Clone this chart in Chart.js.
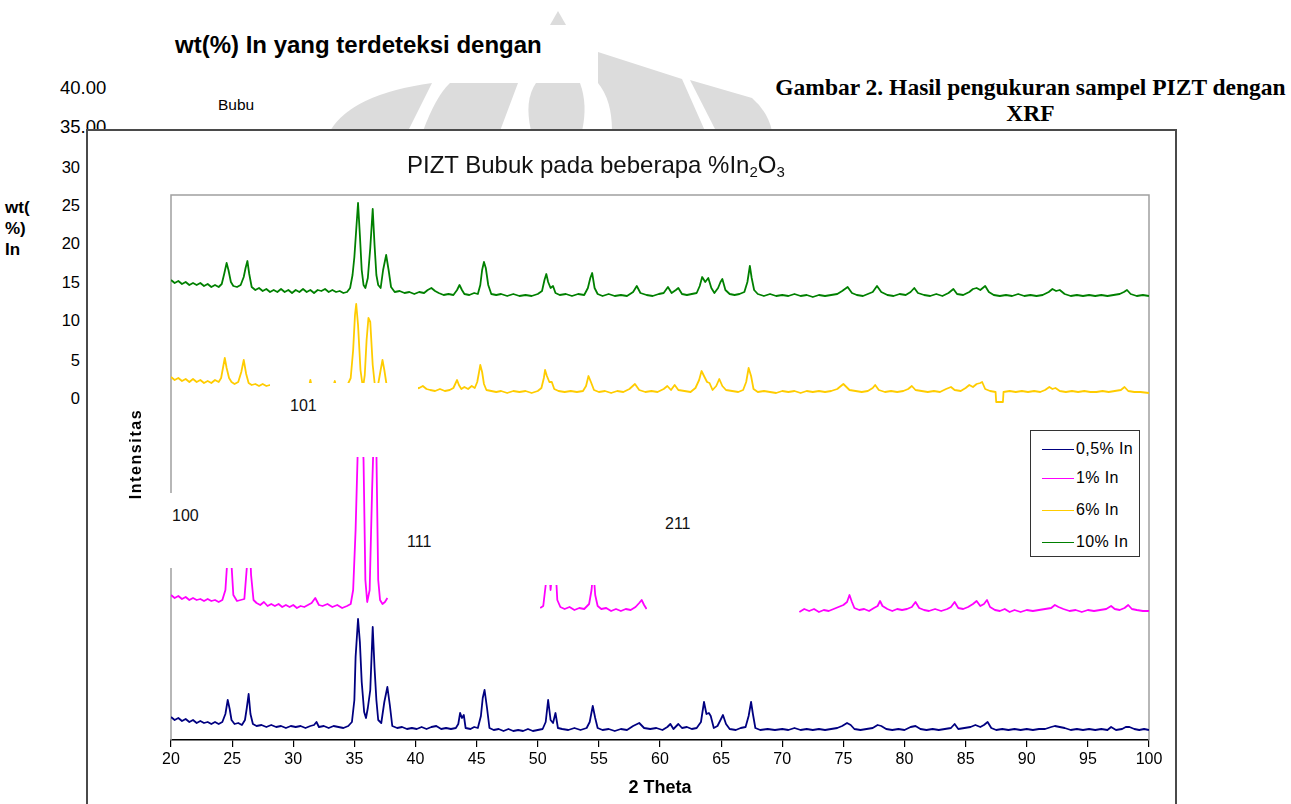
<!DOCTYPE html>
<html>
<head>
<meta charset="utf-8">
<script src="https://cdn.jsdelivr.net/npm/chart.js@4.4.0/dist/chart.umd.min.js"></script>
<style>
  html, body { margin: 0; padding: 0; background: #fff; width: 1291px; height: 804px; overflow: hidden;
    font-family: "Liberation Sans", Arial, sans-serif; color: #000; }
  .t { position: absolute; white-space: nowrap; z-index: 0; }
  .num { font-size: 16.5px; line-height: 20px; text-align: right; width: 40px; left: 40px; }
  .side { font-size: 17px; font-weight: bold; line-height: 20px; left: 5px; }
  #frame { position: absolute; left: 86px; top: 129px; width: 1091px; height: 720px;
    border: 2px solid #4a4a4a; background: #fff; box-sizing: border-box; z-index: 1; }
  #xrd { position: absolute; left: 0; top: 0; z-index: 2; }
  .box { position: absolute; background: #fff; z-index: 3; }
  .box span { position: absolute; font-size: 16px; line-height: 20px; color: #111; }
  #title { position: absolute; left: 407px; top: 151px; font-size: 24px; line-height: 28px; z-index: 3; white-space: nowrap; color: #111; }
  #title sub { font-size: 15px; vertical-align: -4px; line-height: 0; }
  #ylab { position: absolute; left: 76px; top: 444px; width: 120px; height: 20px; line-height: 20px;
    text-align: center; font-size: 16px; font-weight: bold; letter-spacing: 1.6px; transform: rotate(-90deg); z-index: 3; }
  #legend { position: absolute; left: 1030px; top: 430px; width: 110px; height: 127px; border: 1.5px solid #333;
    box-sizing: border-box; background: #fff; z-index: 3; }
  #legend .row { position: absolute; left: 11px; height: 20px; line-height: 20px; font-size: 16px; letter-spacing: 0.4px; white-space: nowrap; }
  #legend .row i { display: inline-block; width: 32px; height: 0; border-top: 1.5px solid; vertical-align: middle; margin-right: 2px; }
</style>
</head>
<body>
<svg width="1291" height="135" style="position:absolute;left:0;top:0;z-index:0">
  <g fill="#dcdcdc">
    <polygon points="558,11 566,25 550,25"/>
    <path d="M330,131 Q352,94 432,83 L408,131 Z"/>
    <path d="M423,131 Q436,96 450,83 L518,83 L500,131 Z"/>
    <path d="M531,131 Q524,100 536,83 L580,83 Q588,105 582,131 Z"/>
    <path d="M598,52 L682,79 L705,131 L612,131 Q612,100 598,83 Z"/>
    <path d="M690,80 L752,98 Q768,112 772,131 L716,131 Z"/>
  </g>
</svg>

<div class="t" style="left:175px;top:31px;font-size:24px;font-weight:bold;line-height:28px;">wt(%) In yang terdeteksi dengan</div>
<div class="t" style="left:60px;top:78px;font-size:18.5px;line-height:20px;">40.00</div>
<div class="t" style="left:218px;top:96px;font-size:15.5px;line-height:18px;">Bubu</div>
<div class="t" style="left:60px;top:117px;font-size:18.5px;line-height:20px;">35.00</div>
<div class="t num" style="top:157px;">30</div>
<div class="t num" style="top:195px;">25</div>
<div class="t num" style="top:233px;">20</div>
<div class="t num" style="top:272px;">15</div>
<div class="t num" style="top:310px;">10</div>
<div class="t num" style="top:350px;">5</div>
<div class="t num" style="top:388px;">0</div>
<div class="t side" style="top:198px;">wt(</div>
<div class="t side" style="top:219px;">%)</div>
<div class="t side" style="top:240px;">In</div>
<div class="t" style="left:770px;top:74px;width:521px;text-align:center;font-family:'Liberation Serif',serif;font-weight:bold;font-size:23.5px;line-height:26px;">Gambar 2. Hasil pengukuran sampel PIZT dengan<br>XRF</div>

<div id="frame"></div>
<canvas id="xrd" width="1291" height="804"></canvas>

<div id="title">PIZT Bubuk pada beberapa %In<sub>2</sub>O<sub>3</sub></div>
<div id="ylab">Intensitas</div>

<div class="box" style="left:270px;top:383px;width:148px;height:74px;"><span style="left:20px;top:13px;">101</span></div>
<div class="box" style="left:160px;top:493px;width:180px;height:75px;"><span style="left:12px;top:13px;">100</span></div>
<div class="box" style="left:388px;top:470px;width:152px;height:146px;"><span style="left:19px;top:62px;">111</span></div>
<div class="box" style="left:540px;top:470px;width:107px;height:115px;"></div>
<div class="box" style="left:647px;top:470px;width:152px;height:148px;"><span style="left:18px;top:44px;">211</span></div>

<div id="legend"></div>

<script>
// series names and colours (legend order)
const seriesNames = ["0,5% In", "1% In", "6% In", "10% In"];
const seriesColors = ["#000080", "#FF00FF", "#FFCC00", "#008000"];

// x axis (2 Theta) range and tick step
const thetaMin = 20, thetaMax = 100, thetaStep = 5;

// intensity, arbitrary units (curves are stacked with offsets as in the figure)
const in05 = [
  [20,23],[20.3,20],[20.6,22],[20.9,19],[21.2,21],[21.5,18],[21.8,20],[22.1,17],[22.4,19],[22.7,17],[23,18],[23.3,16],[23.6,18],[23.9,16],[24.2,18],[24.45,26],[24.64,40],[24.8,31],[24.95,20],[25.2,16],[25.5,17],[25.8,15],[26.05,20],[26.2,32],[26.35,46],[26.5,26],[26.7,16],
  [27,14],[27.4,15],[27.8,13],[28.2,15],[28.6,13],[29,14],[29.4,12],[29.8,14],[30.2,13],[30.6,14],[31,12],[31.4,14],[31.7,15],[31.9,18],[32.1,13],[32.5,14],[32.9,12],[33.3,14],[33.7,13],[34.1,12],[34.5,14],[34.8,18],
  [35,40],[35.1,83],[35.3,121],[35.45,98],[35.6,58],[35.8,28],[35.95,22],[36.1,32],[36.3,50],[36.5,113],[36.65,72],[36.8,40],[36.95,20],[37.2,17],[37.45,38],[37.7,53],[37.9,35],[38.1,14],
  [38.5,12],[38.9,13],[39.3,11],[39.7,12],[40.1,11],[40.5,13],[40.9,11],[41.3,13],[41.7,14],[42.1,11],[42.5,12],[42.9,11],[43.3,12],[43.5,16],[43.65,27],[43.8,22],[43.95,25],[44.1,12],[44.5,11],[44.8,13],[45.1,12],[45.35,24],[45.5,42],[45.65,50],[45.85,32],[46.05,12],
  [46.4,10],[46.8,11],[47.2,9],[47.6,11],[48,9],[48.4,10],[48.8,9],[49.2,11],[49.6,9],[50,10],[50.4,11],[50.65,18],[50.85,40],[51.05,20],[51.25,17],[51.45,27],[51.65,12],[52,11],[52.5,10],[53,12],[53.5,10],[54,12],[54.25,18],[54.5,34],[54.7,22],[54.9,12],
  [55.3,10],[55.8,11],[56.3,9],[56.8,11],[57.3,10],[57.8,14],[58.3,17],[58.7,12],[59.2,11],[59.7,12],[60.2,10],[60.6,13],[60.85,16],[61.1,11],[61.5,16],[61.8,12],[62.2,13],[62.6,11],[63,12],[63.35,18],[63.6,38],[63.8,26],[64,27],[64.15,24],[64.4,12],[64.7,14],[64.95,20],[65.15,25],[65.4,16],[65.7,11],
  [66.2,10],[66.6,12],[67,13],[67.25,24],[67.45,38],[67.6,26],[67.8,12],[68.2,10],[68.8,11],[69.4,10],[70,11],[70.5,10],[71,12],[71.5,10],[72,11],[72.5,10],[73,11],[73.5,10],[74,11],[74.5,12],[74.9,14],[75.3,17],[75.6,15],[75.9,11],
  [76.4,10],[76.9,11],[77.4,12],[77.8,15],[78.1,14],[78.5,11],[79,10],[79.5,11],[80,10],[80.5,13],[80.9,14],[81.3,11],[81.8,10],[82.3,11],[82.8,10],[83.3,11],[83.8,12],[84.1,16],[84.4,11],[84.9,12],[85.4,13],[85.8,15],[86.2,13],[86.5,15],[86.8,18],[87.1,12],
  [87.5,10],[88,11],[88.5,10],[89,11],[89.5,10],[90,11],[90.5,10],[91,11],[91.5,11],[92,13],[92.3,14],[92.7,13],[93.1,12],[93.6,10],[94.1,11],[94.6,10],[95.1,11],[95.6,10],[96.1,11],[96.6,10],[96.9,13],[97.3,10],[97.8,11],[98.1,13],[98.4,13],[98.8,11],[99.2,10],[99.6,11],[100,10]
];

const in1 = [
  [20,145],[20.3,142],[20.6,144],[20.9,141],[21.2,143],[21.5,140],[21.8,142],[22.1,140],[22.4,141],[22.7,139],[23,141],[23.3,139],[23.6,140],[23.9,138],[24.2,140],[24.45,150],[24.6,178],[24.8,205],[24.95,175],[25.1,145],[25.4,139],[25.7,140],[26,141],[26.2,172],[26.4,210],[26.55,165],[26.75,140],
  [27,137],[27.3,135],[27.6,138],[27.9,134],[28.2,136],[28.5,134],[28.8,136],[29.1,133],[29.4,135],[29.7,133],[30,135],[30.3,132],[30.6,134],[30.9,133],[31.2,135],[31.5,137],[31.8,142],[32.1,135],[32.4,134],[32.8,136],[33.2,133],[33.6,135],[34,132],[34.4,134],[34.7,136],
  [34.9,150],[35.1,210],[35.3,300],[35.55,330],[35.75,280],[35.9,160],[36.05,138],[36.25,150],[36.45,250],[36.65,330],[36.8,290],[36.95,160],[37.1,140],[37.3,136],[37.5,138],[37.7,142],
  [37.75,null],
  [50.2,132],[50.45,134],[50.65,155],[50.85,190],[51.05,150],[51.2,170],[51.4,185],[51.6,140],[51.85,133],[52.2,131],[52.6,133],[53,130],[53.4,132],[53.8,131],[54.2,136],[54.4,150],[54.55,170],[54.7,145],[54.9,134],[55.2,131],[55.6,132],[56,129],[56.4,131],[56.8,129],[57.2,131],[57.6,130],[58,133],[58.3,137],[58.5,140],[58.7,135],[58.9,131],
  [58.95,null],
  [71.4,128],[71.8,131],[72.2,129],[72.6,131],[73,128],[73.4,130],[73.8,129],[74.2,131],[74.6,133],[75,135],[75.3,138],[75.5,145],[75.7,138],[75.9,132],[76.3,130],[76.7,131],[77.1,129],[77.5,132],[77.8,134],[78,139],[78.2,134],[78.6,131],[79,129],[79.4,131],[79.8,130],
  [80.2,131],[80.6,133],[80.9,138],[81.2,132],[81.6,130],[82,129],[82.5,131],[83,129],[83.5,131],[83.8,133],[84.1,138],[84.4,132],[84.8,131],[85.2,133],[85.6,136],[85.9,139],[86.2,134],[86.5,136],[86.75,140],[87,133],[87.4,130],[87.8,129],[88.2,131],[88.6,128],[89,130],
  [89.5,128],[90,130],[90.5,129],[91,130],[91.5,131],[92,132],[92.3,135],[92.6,133],[93,131],[93.5,129],[94,130],[94.5,128],[95,130],[95.5,129],[96,130],[96.5,131],[96.9,134],[97.2,131],[97.6,130],[98,132],[98.3,135],[98.6,131],[99,130],[99.5,129],[100,129]
];

const in6 = [
  [20,363],[20.3,360],[20.6,362],[20.9,359],[21.2,361],[21.5,358],[21.8,361],[22.1,358],[22.4,360],[22.7,357],[23,359],[23.3,357],[23.6,360],[23.9,358],[24.1,362],[24.25,372],[24.4,382],[24.55,372],[24.75,362],[24.95,358],[25.2,356],[25.5,358],[25.75,368],[25.95,380],[26.15,366],[26.35,357],
  [26.6,355],[26.9,356],[27.2,354],[27.5,356],[27.8,354],[28.1,355],[28.5,353],[29,354],[29.5,352],[30,354],[30.5,352],[31,353],[31.3,354],[31.4,360],[31.5,354],[32,352],[32.5,354],[33,352],[33.3,355],[33.4,359],[33.5,353],[34,352],[34.4,354],
  [34.7,362],[34.9,390],[35.05,425],[35.15,436],[35.3,415],[35.5,370],[35.7,352],[35.85,365],[36,400],[36.15,422],[36.3,418],[36.5,375],[36.7,352],[36.95,356],[37.15,370],[37.3,380],[37.45,370],[37.65,354],[37.9,351],
  [38.3,353],[38.8,351],[39.3,353],[39.8,351],[40.3,352],[40.6,354],[40.9,351],[41.2,350],[41.6,349],[42,351],[42.4,349],[42.8,350],[43.1,352],[43.25,356],[43.4,360],[43.55,355],[43.75,351],[44,353],[44.3,351],[44.6,354],[44.85,352],[45.05,358],[45.2,368],[45.3,375],[45.45,368],[45.6,356],[45.8,350],
  [46.2,349],[46.6,348],[47,349],[47.5,347],[48,349],[48.5,348],[49,349],[49.5,347],[50,349],[50.3,352],[50.5,362],[50.6,370],[50.75,364],[50.95,358],[51.15,358],[51.35,351],[51.7,349],[52.2,348],[52.7,349],[53.2,348],[53.7,349],[53.95,354],[54.15,364],[54.35,358],[54.6,350],
  [55,348],[55.5,349],[56,347],[56.5,349],[57,348],[57.5,351],[57.95,356],[58.3,350],[58.8,348],[59.3,349],[59.8,348],[60.3,351],[60.6,354],[60.9,350],[61.2,355],[61.5,350],[62,349],[62.5,348],[62.9,352],[63.2,360],[63.4,369],[63.6,364],[63.85,358],[64.05,357],[64.3,350],[64.6,354],[64.85,361],[65.1,354],[65.4,350],
  [65.9,349],[66.4,348],[66.8,350],[67.05,358],[67.25,372],[67.45,364],[67.65,351],[68,348],[68.5,349],[69,348],[69.5,347],[70,349],[70.5,348],[71,349],[71.5,347],[72,349],[72.5,348],[73,349],[73.5,348],[74,349],[74.5,351],[74.8,354],[75,356],[75.25,353],[75.5,350],
  [76,349],[76.5,348],[77,349],[77.4,352],[77.6,355],[77.9,350],[78.4,348],[78.9,349],[79.4,348],[79.9,349],[80.3,351],[80.6,354],[80.9,350],[81.4,349],[81.9,348],[82.4,349],[82.9,348],[83.4,351],[83.8,353],[84.1,350],[84.6,349],[85,352],[85.3,355],[85.6,353],[85.9,356],[86.2,357],[86.35,358],[86.6,351],[87,349],
  [87.45,348],[87.5,338],[88.05,338],[88.1,348],[88.6,349],[89.1,348],[89.6,349],[90.1,348],[90.6,349],[91.1,348],[91.5,350],[91.85,353],[92.1,351],[92.35,352],[92.7,349],[93.2,348],[93.7,349],[94.2,348],[94.7,349],[95.2,348],[95.7,348],[96.2,349],[96.7,348],[97.2,349],[97.7,350],[98,353],[98.3,349],[98.8,348],[99.3,348],[100,347]
];

const in10 = [
  [20,460],[20.3,457],[20.6,459],[20.9,456],[21.2,458],[21.5,455],[21.8,457],[22.1,455],[22.4,457],[22.7,454],[23,456],[23.3,453],[23.6,455],[23.9,453],[24.15,456],[24.35,466],[24.55,477],[24.7,470],[24.9,458],[25.1,454],[25.4,453],[25.7,455],[25.95,463],[26.1,472],[26.25,479],[26.4,466],[26.6,453],
  [26.9,450],[27.2,452],[27.5,449],[27.8,451],[28.1,448],[28.4,450],[28.7,448],[29,451],[29.3,448],[29.6,450],[29.9,447],[30.2,450],[30.5,448],[30.8,451],[31.1,448],[31.4,450],[31.7,447],[32,450],[32.3,449],[32.6,451],[32.9,448],[33.2,450],[33.5,448],[33.8,449],[34.1,447],[34.4,448],[34.65,452],
  [34.85,465],[35,483],[35.15,510],[35.3,537],[35.45,505],[35.6,470],[35.75,455],[35.9,452],[36.1,462],[36.3,492],[36.5,531],[36.65,495],[36.8,465],[36.95,455],[37.15,452],[37.35,470],[37.6,485],[37.8,470],[38,453],
  [38.3,448],[38.7,449],[39.1,447],[39.5,448],[39.9,446],[40.3,448],[40.7,447],[41,450],[41.3,452],[41.6,449],[41.9,447],[42.3,445],[42.7,446],[43.1,445],[43.4,450],[43.6,455],[43.8,450],[44,446],[44.4,445],[44.8,447],[45.1,446],[45.3,455],[45.45,470],[45.6,478],[45.75,472],[45.95,455],
  [46.2,446],[46.6,445],[47,446],[47.5,444],[48,446],[48.5,444],[49,445],[49.5,444],[50,446],[50.35,449],[50.55,460],[50.7,466],[50.85,458],[51.05,452],[51.25,454],[51.45,447],[51.8,445],[52.3,446],[52.8,444],[53.3,446],[53.8,445],[54.1,452],[54.3,462],[54.45,467],[54.65,452],[54.9,446],
  [55.3,444],[55.8,446],[56.3,444],[56.8,445],[57.3,444],[57.8,448],[58.1,454],[58.4,447],[58.9,445],[59.4,444],[59.9,446],[60.3,447],[60.65,453],[60.95,447],[61.3,450],[61.5,452],[61.8,446],[62.2,445],[62.6,446],[63,447],[63.25,454],[63.45,463],[63.7,458],[63.95,462],[64.2,452],[64.45,447],[64.75,452],[64.95,458],[65.1,461],[65.35,450],
  [65.7,446],[66.1,445],[66.5,446],[66.9,448],[67.15,458],[67.35,474],[67.5,462],[67.7,450],[68,446],[68.5,444],[69,446],[69.5,444],[70,445],[70.5,444],[71,446],[71.5,444],[72,445],[72.5,443],[73,445],[73.5,444],[74,445],[74.5,446],[74.9,449],[75.35,453],[75.7,447],
  [76.1,445],[76.6,444],[77,446],[77.4,448],[77.75,454],[78.1,448],[78.6,445],[79.1,444],[79.6,446],[80.1,445],[80.5,448],[80.8,452],[81.1,447],[81.6,445],[82.1,444],[82.6,446],[83.1,444],[83.6,447],[84,451],[84.3,446],[84.8,445],[85.3,448],[85.6,451],[85.9,452],[86.2,450],[86.6,454],[86.9,448],
  [87.3,445],[87.8,444],[88.3,445],[88.8,444],[89.3,446],[89.8,444],[90.3,445],[90.8,444],[91.3,445],[91.8,448],[92.1,451],[92.4,449],[92.7,450],[93.1,446],[93.6,444],[94.1,445],[94.6,444],[95.1,445],[95.6,444],[96.1,445],[96.6,444],[97.1,445],[97.6,446],[97.95,448],[98.2,450],[98.5,446],[99,444],[99.5,445],[100,444]
];

const seriesData = [in05, in1, in6, in10];

// legend (html, like the Excel legend box)
const legendBox = document.getElementById("legend");
const rowTops = [8, 37, 69, 101];
seriesNames.forEach(function (name, i) {
  const row = document.createElement("div");
  row.className = "row";
  row.style.top = rowTops[i] + "px";
  row.innerHTML = '<i style="border-color:' + seriesColors[i] + '"></i>' + name;
  legendBox.appendChild(row);
});

// gray plot area border (top, left, right)
const plotBorder = {
  id: "plotBorder",
  beforeDatasetsDraw(chart) {
    const { ctx, chartArea: a } = chart;
    ctx.save();
    ctx.strokeStyle = "#a0a0a0";
    ctx.lineWidth = 1.5;
    ctx.beginPath();
    ctx.moveTo(a.left, a.bottom);
    ctx.lineTo(a.left, a.top);
    ctx.lineTo(a.right, a.top);
    ctx.lineTo(a.right, a.bottom);
    ctx.stroke();
    ctx.restore();
  },
};

const xrdChart = new Chart(document.getElementById("xrd"), {
  type: "line",
  data: {
    datasets: seriesNames.map(function (name, i) {
      return {
        label: name,
        data: seriesData[i].map(function (p) { return { x: p[0], y: p[1] }; }),
        borderColor: seriesColors[i],
        borderWidth: 1.8,
        borderJoinStyle: "round",
        pointRadius: 0,
        tension: 0,
        fill: false,
        spanGaps: false,
      };
    }),
  },
  options: {
    responsive: false,
    animation: false,
    devicePixelRatio: 1,
    layout: { padding: { left: 171, right: 142, top: 195, bottom: 0 } },
    plugins: {
      legend: { display: false },
      tooltip: { enabled: false },
    },
    scales: {
      x: {
        type: "linear",
        min: thetaMin,
        max: thetaMax,
        afterFit: function (scale) { scale.height = 64; },
        ticks: {
          stepSize: thetaStep,
          autoSkip: false,
          maxRotation: 0,
          color: "#000",
          padding: 3,
          font: { family: "Liberation Sans", size: 16 },
        },
        grid: { drawOnChartArea: false, drawTicks: true, tickLength: 7, color: "#000", lineWidth: 1.2 },
        border: { display: true, color: "#000", width: 1.5 },
        title: {
          display: true,
          text: "2 Theta",
          color: "#000",
          font: { family: "Liberation Sans", size: 18, weight: "bold" },
          padding: { top: 0, bottom: 5 },
        },
      },
      y: { display: false, min: 0, max: 545 },
    },
  },
  plugins: [plotBorder],
});
</script>
</body>
</html>
